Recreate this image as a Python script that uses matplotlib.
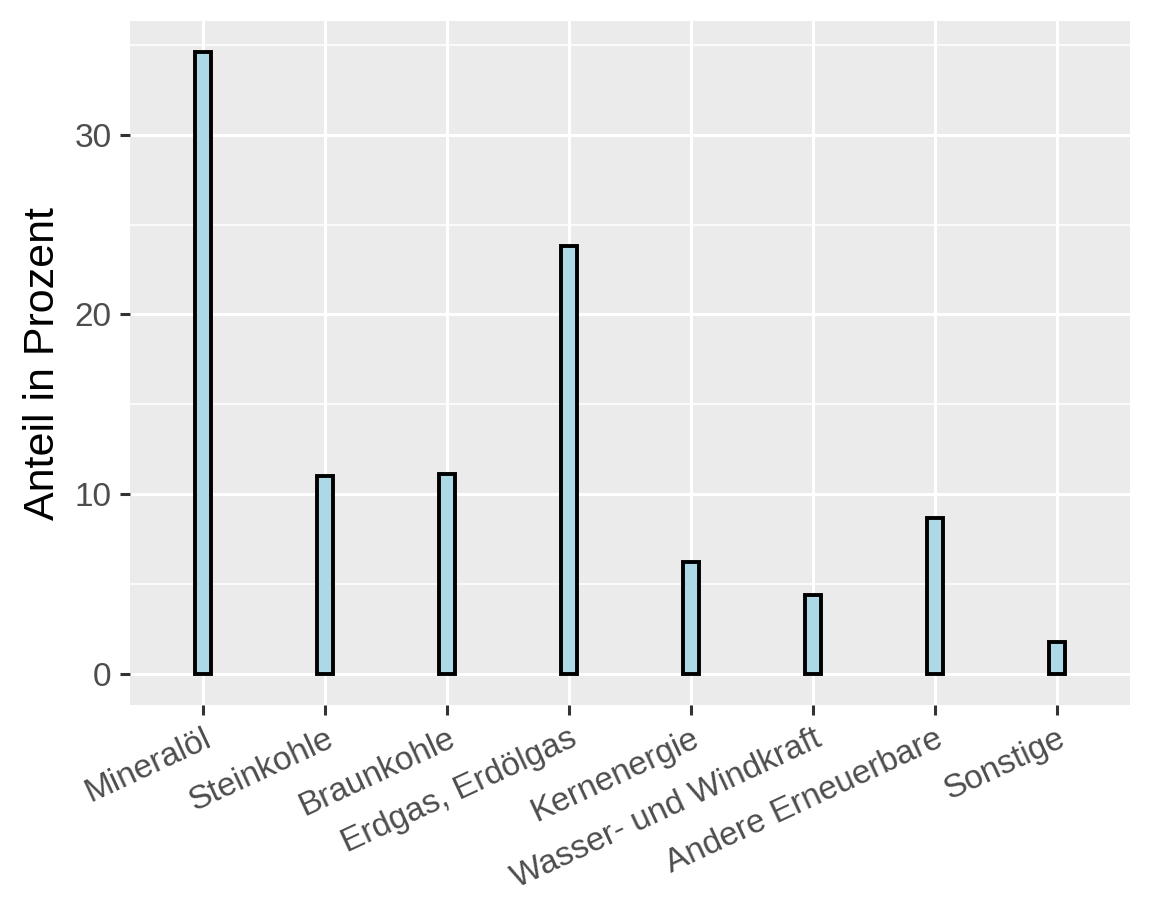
import matplotlib
matplotlib.use("Agg")
import matplotlib.pyplot as plt
from matplotlib.ticker import MultipleLocator

# energy sources and their share (percent)
categories = ["Mineralöl", "Steinkohle", "Braunkohle", "Erdgas, Erdölgas",
              "Kernenergie", "Wasser- und Windkraft", "Andere Erneuerbare", "Sonstige"]
shares = [34.6, 11.0, 11.1, 23.8, 6.2, 4.4, 8.7, 1.8]

plt.rcParams['font.family'] = ['Liberation Sans', 'DejaVu Sans']

fig = plt.figure(figsize=(5.76, 4.605), dpi=200)
ax = fig.add_axes([130/1152, 216/921, 1000/1152, 684/921])
ax.set_facecolor("#EBEBEB")

x = list(range(1, len(categories) + 1))
ax.bar(x, shares, width=0.13, color="#ADD8E6", edgecolor="black",
       linewidth=1.4, zorder=3)

# ggplot style expansion
top = max(shares)
ax.set_xlim(0.4, len(categories) + 0.6)
ax.set_ylim(-0.05 * top, top * 1.05)

ax.yaxis.set_major_locator(MultipleLocator(10))
ax.yaxis.set_minor_locator(MultipleLocator(5))
ax.set_xticks(x)
ax.set_xticklabels(categories, rotation=25, ha="right", rotation_mode="anchor")

ax.grid(which="major", color="white", linewidth=1.1, zorder=0)
ax.grid(which="minor", axis="y", color="white", linewidth=0.55, zorder=0)
ax.set_axisbelow(True)
for s in ax.spines.values():
    s.set_visible(False)

ax.tick_params(which="major", length=3.6, width=1.1, color="#333333",
               labelcolor="#4D4D4D", labelsize=12, pad=3)
ax.tick_params(which="minor", length=0)

ax.set_ylabel("Anteil in Prozent", fontsize=15.5, color="black", labelpad=4)

fig.savefig("out.png", dpi=200)
